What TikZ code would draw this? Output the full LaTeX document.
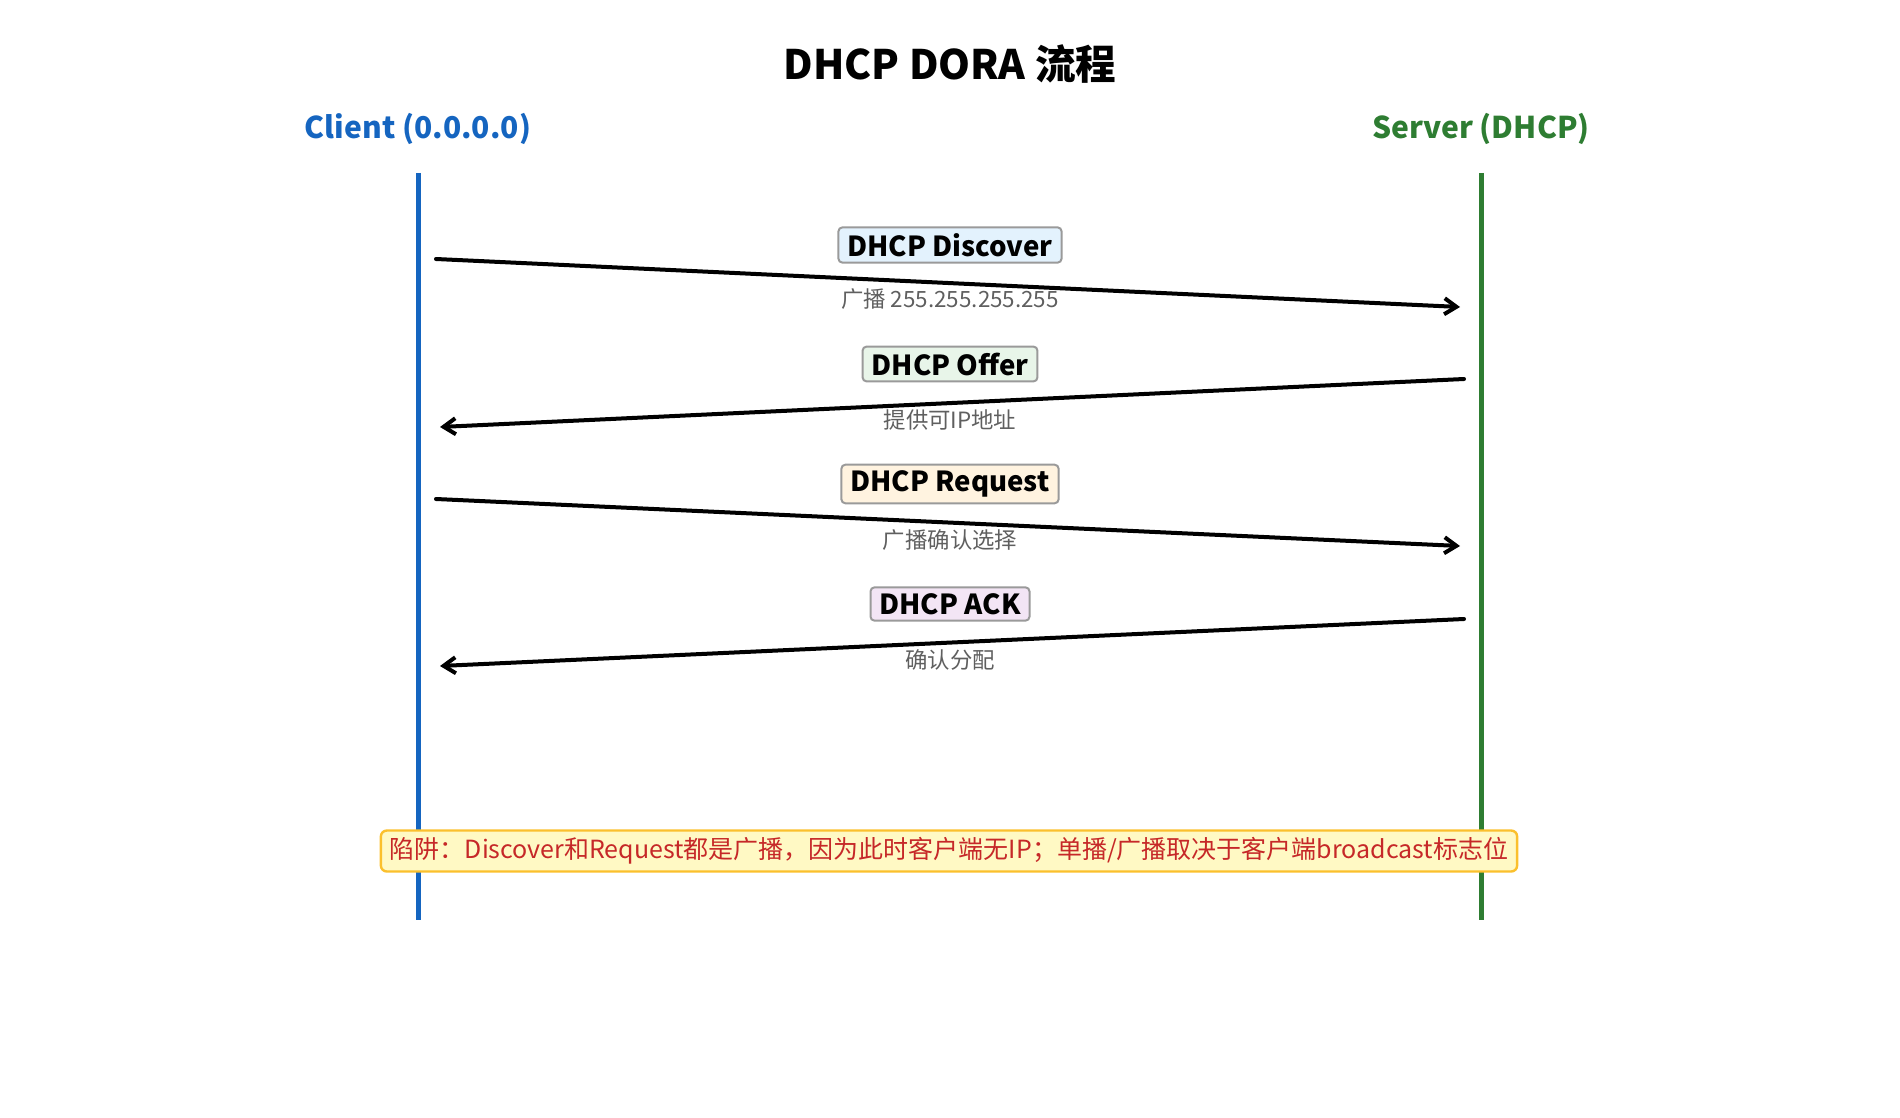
\documentclass[tikz,border=0pt]{standalone}
\usepackage{fontspec}
\setmainfont{Noto Sans CJK SC}
\usepackage{xcolor}
\usepackage{tikz}
\usetikzlibrary{positioning,arrows.meta}
\definecolor{clientblue}{HTML}{1565C0}
\definecolor{servergreen}{HTML}{2E7D32}
\definecolor{boxgray}{HTML}{9A9A9A}
\definecolor{subgray}{HTML}{5F5F5F}
\definecolor{discfill}{HTML}{E3F2FD}
\definecolor{offerfill}{HTML}{E8F5E9}
\definecolor{reqfill}{HTML}{FFF3E0}
\definecolor{ackfill}{HTML}{F3E5F5}
\definecolor{notefill}{HTML}{FFF9C4}
\definecolor{notedraw}{HTML}{FBC02D}
\definecolor{notetext}{HTML}{C62828}
\tikzset{
  ttl/.style={font=\fontsize{20.3}{24}\selectfont\bfseries},
  who/.style={font=\fontsize{15}{18}\selectfont\bfseries},
  lifeline/.style={line width=2.5pt},
  msgbox/.style={rectangle, rounded corners=2pt, draw=boxgray, line width=1pt,
    font=\fontsize{13.8}{16}\selectfont\bfseries, inner xsep=4.5pt, inner ysep=3pt},
  msgsub/.style={font=\fontsize{11.2}{13}\selectfont, text=subgray, inner sep=1pt},
  msg/.style={-{Straight Barb[length=6pt, width=8pt]}, line width=2pt, line cap=round},
  pitfall/.style={rectangle, rounded corners=3pt, draw=notedraw, fill=notefill, line width=1.2pt,
    font=\fontsize{12.5}{14}\selectfont, text=notetext, minimum height=20.5pt, inner xsep=4.5pt},
}
\begin{document}
\begin{tikzpicture}[x=0.5pt, y=-0.5pt]
\useasboundingbox (0,0) rectangle (1900,1118);
% title and participants
\node[ttl] (title) at (950,64) {DHCP DORA 流程};
\node[who, text=clientblue] (client) at (418,129) {Client (0.0.0.0)};
\node[who, text=servergreen] (server) at (1481,129) {Server (DHCP)};
% lifelines
\coordinate (cTop) at (418,173);
\coordinate (cBot) at (418,920);
\coordinate (sTop) at (1481,173);
\coordinate (sBot) at (1481,920);
\draw[lifeline, clientblue] (cTop) -- (cBot);
\draw[lifeline, servergreen] (sTop) -- (sBot);
% message end points
\coordinate (d1) at (436,259);  \coordinate (d2) at (1460,307);
\coordinate (o1) at (1464,379); \coordinate (o2) at (440,427);
\coordinate (r1) at (436,499);  \coordinate (r2) at (1460,546);
\coordinate (a1) at (1464,619); \coordinate (a2) at (440,666);
\draw[msg] (d1) -- (d2);
\draw[msg] (o1) -- (o2);
\draw[msg] (r1) -- (r2);
\draw[msg] (a1) -- (a2);
% message labels
\node[msgbox, fill=discfill] (disc) at (950,245) {DHCP Discover};
\node[msgsub] (discsub) at (950,299) {广播 255.255.255.255};
\node[msgbox, fill=offerfill] (offer) at (950,364) {DHCP Offer};
\node[msgsub] (offersub) at (950,420) {提供可IP地址};
\node[msgbox, fill=reqfill] (req) at (950,484) {DHCP Request};
\node[msgsub] (reqsub) at (950,540) {广播确认选择};
\node[msgbox, fill=ackfill] (ack) at (950,604) {DHCP ACK};
\node[msgsub] (acksub) at (950,660) {确认分配};
% pitfall note
\node[pitfall] (note) at (949,851) {陷阱：Discover和Request都是广播，因为此时客户端无IP；单播/广播取决于客户端broadcast标志位};
\end{tikzpicture}
\end{document}
